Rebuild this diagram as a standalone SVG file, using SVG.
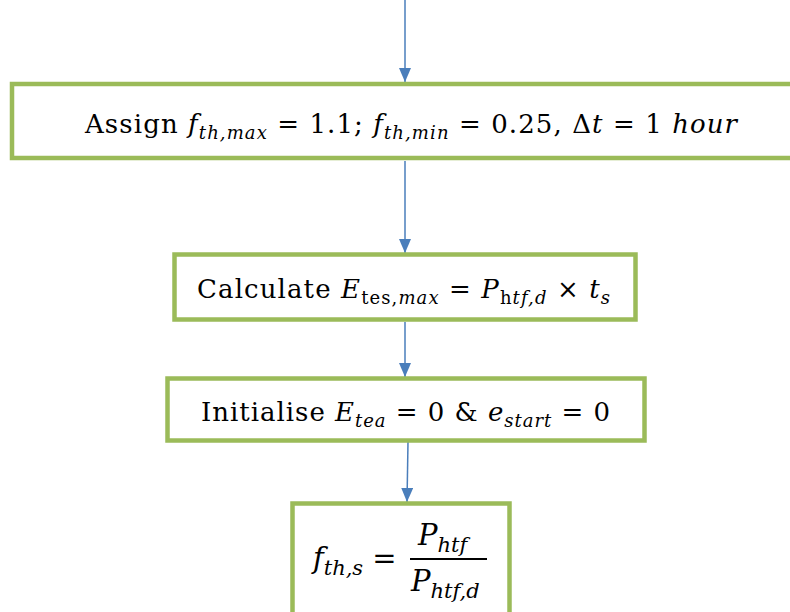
<svg xmlns="http://www.w3.org/2000/svg" width="790" height="612" viewBox="0 0 790 612">
<defs>
<marker id="ah" viewBox="0 0 14 12" refX="14" refY="6" markerWidth="14" markerHeight="12" markerUnits="userSpaceOnUse" orient="auto">
<path d="M0,0 L14,6 L0,12 z" fill="#4A7EBB"/>
</marker>
<style>
.box{fill:#fff;stroke:#9BBB59;stroke-width:4.5}
.c{stroke:#4A7EBB;stroke-width:1.5;fill:none;marker-end:url(#ah)}
.t{font-family:"DejaVu Serif","Liberation Serif",serif;font-size:26px;fill:#000}
.i{font-style:italic}
.s{font-size:18px;font-style:italic}
.b{font-size:29px}
.bs{font-size:21px;font-style:italic}
</style>
</defs>
<rect width="790" height="612" fill="#fff"/>
<g id="connectors">
<line class="c" x1="405" y1="0" x2="405" y2="82"/>
<line class="c" x1="405" y1="161" x2="405" y2="253"/>
<line class="c" x1="405" y1="322" x2="405" y2="377"/>
<line class="c" x1="408" y1="442" x2="407" y2="502"/>
</g>
<g id="n1">
<rect class="box" x="12" y="84" width="800" height="74"/>
<text class="t" x="85" y="133" textLength="652" lengthAdjust="spacing">Assign <tspan class="i">f</tspan><tspan class="s" dy="6">th,max</tspan><tspan dy="-6"> = 1.1; </tspan><tspan class="i">f</tspan><tspan class="s" dy="6">th,min</tspan><tspan dy="-6"> = 0.25, Δ</tspan><tspan class="i">t</tspan> = 1 <tspan class="i">hour</tspan></text>
</g>
<g id="n2">
<rect class="box" x="174.5" y="254.5" width="461" height="65"/>
<text class="t" x="197" y="298" textLength="413" lengthAdjust="spacing">Calculate <tspan class="i">E</tspan><tspan style="font-size:18px" dy="6">tes,</tspan><tspan class="s">max</tspan><tspan dy="-6"> = </tspan><tspan class="i">P</tspan><tspan style="font-size:18px" dy="6">h</tspan><tspan class="s">tf,d</tspan><tspan dy="-6"> × </tspan><tspan class="i">t</tspan><tspan class="s" dy="6">s</tspan></text>
</g>
<g id="n3">
<rect class="box" x="167.5" y="378.5" width="477" height="62"/>
<text class="t" x="201" y="421" textLength="409" lengthAdjust="spacing">Initialise <tspan class="i">E</tspan><tspan class="s" dy="6">tea</tspan><tspan dy="-6"> = 0 &amp; </tspan><tspan class="i">e</tspan><tspan class="s" dy="6">start</tspan><tspan dy="-6"> = 0</tspan></text>
</g>
<g id="n4">
<rect class="box" x="292.5" y="503.5" width="217" height="130"/>
<text class="t b" x="313" y="568"><tspan class="i">f</tspan><tspan class="bs" dy="7">th,s</tspan><tspan dy="-7"> =</tspan></text>
<line x1="410" y1="559" x2="487" y2="559" stroke="#000" stroke-width="2"/>
<text class="t b" x="418" y="545"><tspan class="i">P</tspan><tspan class="bs" dy="7">htf</tspan></text>
<text class="t b" x="411" y="591"><tspan class="i">P</tspan><tspan class="bs" dy="7">htf,d</tspan></text>
</g>
</svg>
